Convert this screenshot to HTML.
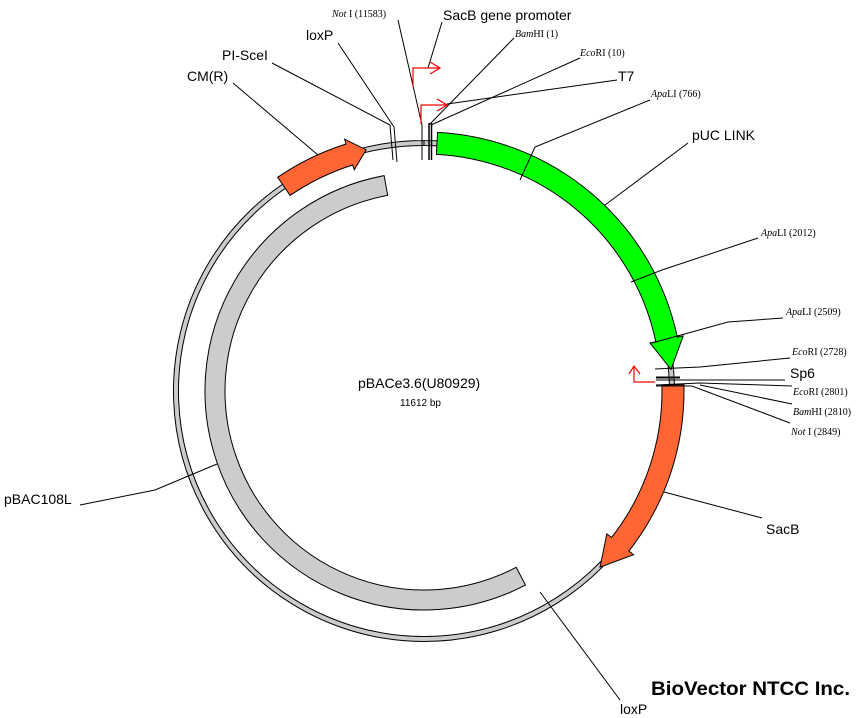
<!DOCTYPE html>
<html><head><meta charset="utf-8"><style>
html,body{margin:0;padding:0;background:#fff;width:868px;height:718px;overflow:hidden}
svg text{font-family:"Liberation Sans",sans-serif}
svg .s text{font-family:"Liberation Serif",serif;font-size:10px}
.s tspan.i{font-style:italic}
</style></head><body>
<svg id="g" width="868" height="718" viewBox="0 0 868 718" xmlns="http://www.w3.org/2000/svg">
<g id="arcs"></g>
<g stroke="#000" stroke-width="1" fill="none">
<polyline points="398,20 422,125 422,160"/>
<polyline points="338,43 394,127 397,162"/>
<polyline points="272,63 390,125 393,160"/>
<line x1="233" y1="83" x2="318" y2="155"/>
<line x1="442" y1="22" x2="428" y2="68"/>
<polyline points="514,38 429,125"/>
<polyline points="580,58 431,125"/>
<line x1="429" y1="123" x2="429" y2="160" stroke-width="1.5"/>
<line x1="431.5" y1="123" x2="431.5" y2="160" stroke-width="1.5"/>
<line x1="617" y1="80" x2="447" y2="104"/>
<polyline points="650,100 535,147 520,180"/>
<line x1="688" y1="143" x2="605" y2="205"/>
<polyline points="758,238 662,270 631,282"/>
<polyline points="783,318 728,322 652,343"/>
<polyline points="790,358 700,367 655,369"/>
<line x1="785" y1="380" x2="656" y2="380"/>
<line x1="656" y1="377.5" x2="680" y2="377.5" stroke-width="2"/>
<polyline points="792,386 700,383 656,385"/>
<polyline points="792,404 700,385"/>
<polyline points="790,423 692,386 656,386"/>
<line x1="762" y1="518" x2="664" y2="492"/>
<line x1="620" y1="700" x2="540" y2="592"/>
<polyline points="80,505 155,490 217,464"/>
</g>
<g stroke="red" stroke-width="1.2" fill="none">
<polyline points="413,87 413,68 440,68"/><polyline points="430,62 440,68 430,74"/>
<polyline points="421,124 421,105 447,105"/><polyline points="437,99 447,105 437,111"/>
<polyline points="655,382 634,382 634,367"/><polyline points="629,374 634,366 640,374"/>
</g>
<g font-size="14" fill="#000">
<text x="443" y="20">SacB gene promoter</text>
<text x="306" y="40">loxP</text>
<text x="222" y="60">PI-SceI</text>
<text x="187" y="81">CM(R)</text>
<text x="618" y="81">T7</text>
<text x="692" y="140">pUC LINK</text>
<text x="790" y="378">Sp6</text>
<text x="766" y="534">SacB</text>
<text x="620" y="714">loxP</text>
<text x="4" y="504">pBAC108L</text>
<text x="358" y="388">pBACe3.6(U80929)</text>
<text x="400" y="406" font-size="10">11612 bp</text>
</g>
<g class="s" fill="#000">
<text x="332" y="17"><tspan class="i">Not</tspan> I (11583)</text>
<text x="515" y="37"><tspan class="i">Bam</tspan>HI (1)</text>
<text x="580" y="56"><tspan class="i">Eco</tspan>RI (10)</text>
<text x="651" y="97"><tspan class="i">Apa</tspan>LI (766)</text>
<text x="761" y="236"><tspan class="i">Apa</tspan>LI (2012)</text>
<text x="786" y="315"><tspan class="i">Apa</tspan>LI (2509)</text>
<text x="792" y="355"><tspan class="i">Eco</tspan>RI (2728)</text>
<text x="793" y="395"><tspan class="i">Eco</tspan>RI (2801)</text>
<text x="793" y="415"><tspan class="i">Bam</tspan>HI (2810)</text>
<text x="791" y="435"><tspan class="i">Not</tspan> I (2849)</text>
</g>
<text x="651" y="695" font-size="19" font-weight="bold" textLength="199" lengthAdjust="spacingAndGlyphs" fill="#000">BioVector NTCC Inc.</text>
</svg>
<script>
var cx=424,cy=391,NS="http://www.w3.org/2000/svg";
function P(r,a){a=a*Math.PI/180;return [cx+r*Math.sin(a),cy-r*Math.cos(a)];}
function band(r1,r2,a1,a2){var l=(a2-a1)>180?1:0,p1=P(r2,a1),p2=P(r2,a2),p3=P(r1,a2),p4=P(r1,a1);
return "M"+p1+" A"+r2+","+r2+" 0 "+l+" 1 "+p2+" L"+p3+" A"+r1+","+r1+" 0 "+l+" 0 "+p4+"Z";}
function arrow(r1,r2,a1,a2,ah,w){var l=(ah-a1)>180?1:0,p1=P(r2,a1),p2=P(r2,ah),p3=P(r2+w,ah),t=P((r1+r2)/2,a2),p5=P(r1-w,ah),p6=P(r1,ah),p7=P(r1,a1);
return "M"+p1+" A"+r2+","+r2+" 0 "+l+" 1 "+p2+" L"+p3+" L"+t+" L"+p5+" L"+p6+" A"+r1+","+r1+" 0 "+l+" 0 "+p7+"Z";}
function add(d,fill,sw){var e=document.createElementNS(NS,"path");e.setAttribute("d",d);e.setAttribute("fill",fill);e.setAttribute("stroke","#000");e.setAttribute("stroke-width",sw||1);document.getElementById("arcs").appendChild(e);}
add(band(245.5,250.5,0,359.99),"#ccc");
add(band(199,219,152.4,349.5),"#ccc");
add(arrow(237,259,3,85,78,6),"#00ff00");
add(arrow(238,260,88.6,135,128,6),"#ff6633");
add(arrow(237,259,-34.4,-13.5,-17.5,5),"#ff6633");
</script>
</body></html>
